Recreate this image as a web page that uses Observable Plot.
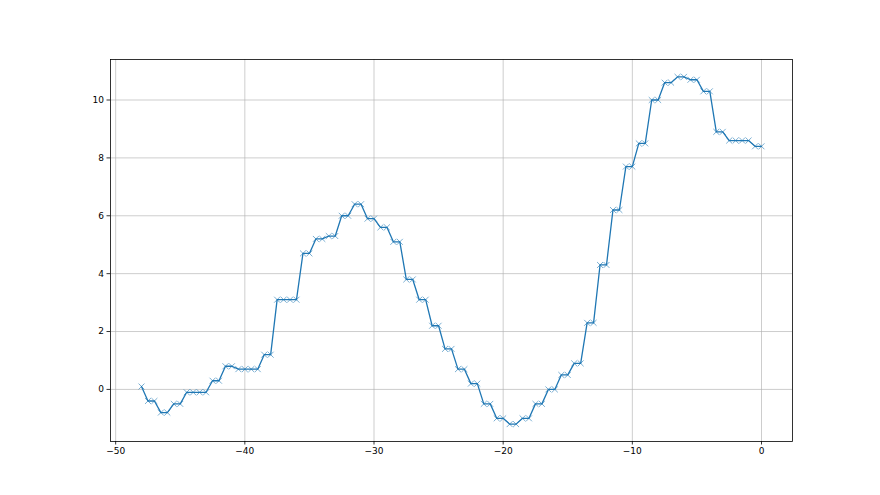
<!DOCTYPE html>
<html>
<head>
<meta charset="utf-8">
<script src="https://cdn.jsdelivr.net/npm/d3@7"></script>
<script src="https://cdn.jsdelivr.net/npm/@observablehq/plot@0.6"></script>
<style>
  html, body { margin: 0; padding: 0; background: #fff; }
</style>
</head>
<body>
<div id="chart"></div>
<script>
const xValues = d3.range(97).map(i => -48 + i * 0.5);
const yValues = [
  0.1,
  -0.4, -0.4, -0.8, -0.8, -0.5, -0.5, -0.1, -0.1, -0.1, -0.1,
  0.3, 0.3, 0.8, 0.8, 0.7, 0.7, 0.7, 0.7, 1.2, 1.2,
  3.1, 3.1, 3.1, 3.1, 4.7, 4.7, 5.2, 5.2, 5.3, 5.3,
  6.0, 6.0, 6.4, 6.4, 5.9, 5.9, 5.6, 5.6, 5.1, 5.1,
  3.8, 3.8, 3.1, 3.1, 2.2, 2.2, 1.4, 1.4, 0.7, 0.7,
  0.2, 0.2, -0.5, -0.5, -1.0, -1.0, -1.2, -1.2, -1.0, -1.0,
  -0.5, -0.5, 0.0, 0.0, 0.5, 0.5, 0.9, 0.9, 2.3, 2.3,
  4.3, 4.3, 6.2, 6.2, 7.7, 7.7, 8.5, 8.5, 10.0, 10.0,
  10.6, 10.6, 10.8, 10.8, 10.7, 10.7, 10.3, 10.3, 8.9, 8.9,
  8.6, 8.6, 8.6, 8.6, 8.4, 8.4
];
const xTicks = [-50, -40, -30, -20, -10, 0];
const yTicks = [0, 2, 4, 6, 8, 10];

const data = xValues.map((x, i) => ({x, y: yValues[i]}));
const color = "#1f77b4";

const chart = Plot.plot({
  width: 880,
  height: 495,
  marginLeft: 110,
  marginRight: 88,
  marginTop: 59,
  marginBottom: 54,
  style: {fontFamily: "DejaVu Sans", fontSize: "9px", color: "#000", background: "#fff"},
  x: {domain: [-50.4, 2.4], label: null},
  y: {domain: [-1.8, 11.4], label: null},
  marks: [
    Plot.gridX(xTicks, {stroke: "#b0b0b0", strokeOpacity: 0.8, strokeWidth: 0.8}),
    Plot.gridY(yTicks, {stroke: "#b0b0b0", strokeOpacity: 0.8, strokeWidth: 0.8}),
    Plot.axisX(xTicks, {tickSize: 3.5, tickPadding: 3, strokeWidth: 0.8, label: null, fill: "#000"}),
    Plot.axisY(yTicks, {tickSize: 3.5, tickPadding: 3, strokeWidth: 0.8, label: null, fill: "#000"}),
    Plot.line(data, {x: "x", y: "y", stroke: color, strokeWidth: 1.3}),
    Plot.dot(data, {x: "x", y: "y", symbol: "times", r: 2.8, stroke: color, strokeWidth: 0.8, strokeOpacity: 0.75}),
    Plot.frame({stroke: "#000", strokeWidth: 0.8})
  ]
});
document.getElementById("chart").appendChild(chart);
</script>
</body>
</html>
